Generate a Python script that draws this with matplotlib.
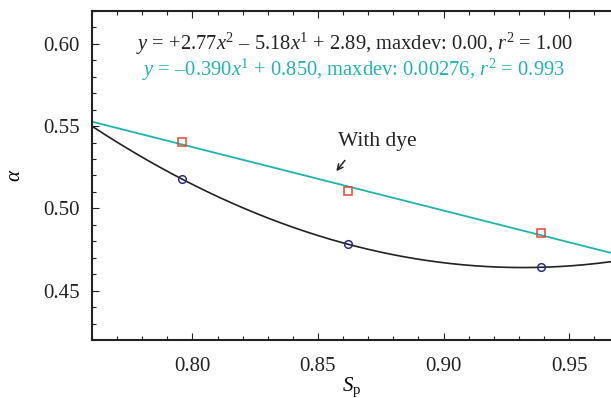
import matplotlib
matplotlib.use("Agg")
import matplotlib.pyplot as plt
import numpy as np
from matplotlib.ticker import MultipleLocator, FormatStrFormatter

# data
sp_values = [0.796, 0.862, 0.939]
alpha_no_dye = [0.5177, 0.4782, 0.4642]
alpha_dye = [0.5404, 0.5104, 0.4850]

eq_quad = r"$y$ = +2.77$x^2$ – 5.18$x^1$ + 2.89, maxdev: 0.00, $r^2$ = 1.00"
eq_lin = r"$y$ = –0.390$x^1$ + 0.850, maxdev: 0.00276, $r^2$ = 0.993"

plt.rcParams["font.family"] = ["Liberation Serif", "DejaVu Serif"]
plt.rcParams["mathtext.fontset"] = "custom"
plt.rcParams["mathtext.rm"] = "Liberation Serif"
plt.rcParams["mathtext.it"] = "Liberation Serif:italic"

CYAN = "#1db5ae"
RED = "#e8452e"
NAVY = "#2e2a8a"
BLACK = "#222222"

fig = plt.figure(figsize=(6.11, 3.98), dpi=100)
ax = fig.add_axes([0.1506, 0.1457, 0.8494, 0.8267])

xlim = (0.76, 0.9667)
xx = np.linspace(xlim[0], xlim[1], 300)

# fitted curves through the points
quad = np.polyfit(sp_values, alpha_no_dye, 2)
lin = np.polyfit(sp_values, alpha_dye, 1)
ax.plot(xx, np.polyval(quad, xx), color=BLACK, lw=1.2)
ax.plot(xx, np.polyval(lin, xx), color=CYAN, lw=1.3)

ax.plot(sp_values, alpha_no_dye, "o", ms=5.5, mfc="none", mec=NAVY, mew=1.1)
ax.plot(sp_values, alpha_dye, "s", ms=6, mfc="none", mec=RED, mew=1.1)

ax.text(0.8643, 0.600, eq_quad, ha="center", va="center", fontsize=14.8, color=BLACK)
ax.text(0.8643, 0.5842, eq_lin, ha="center", va="center", fontsize=14.8, color=CYAN)

ax.text(0.8736, 0.5409, "With dye", ha="center", va="center", fontsize=15.5, color=BLACK)
ax.annotate("", xy=(0.8566, 0.5213), xytext=(0.8614, 0.5305),
            arrowprops=dict(arrowstyle="->", color=BLACK, lw=1.1))

ax.set_xlim(*xlim)
ax.set_ylim(0.42, 0.62)
ax.xaxis.set_major_locator(MultipleLocator(0.05))
ax.xaxis.set_minor_locator(MultipleLocator(0.01))
ax.yaxis.set_major_locator(MultipleLocator(0.05))
ax.yaxis.set_minor_locator(MultipleLocator(0.01))
ax.xaxis.set_major_formatter(FormatStrFormatter("%.2f"))
ax.yaxis.set_major_formatter(FormatStrFormatter("%.2f"))

ax.spines["right"].set_visible(False)
for s in ("left", "top", "bottom"):
    ax.spines[s].set_linewidth(1.5)
    ax.spines[s].set_color(BLACK)
ax.tick_params(which="both", direction="in", top=True, right=False,
               labelsize=15, colors=BLACK, width=0.8)
ax.tick_params(which="major", length=5)
ax.tick_params(axis="y", which="major", pad=9)
ax.tick_params(axis="x", which="major", pad=12)
ax.tick_params(which="minor", length=3)

ax.set_xlabel(r"$S_{\mathrm{p}}$", fontsize=15, labelpad=0)
ax.set_ylabel(r"$\alpha$", fontsize=15, labelpad=13)

fig.savefig("out.png", dpi=100)
